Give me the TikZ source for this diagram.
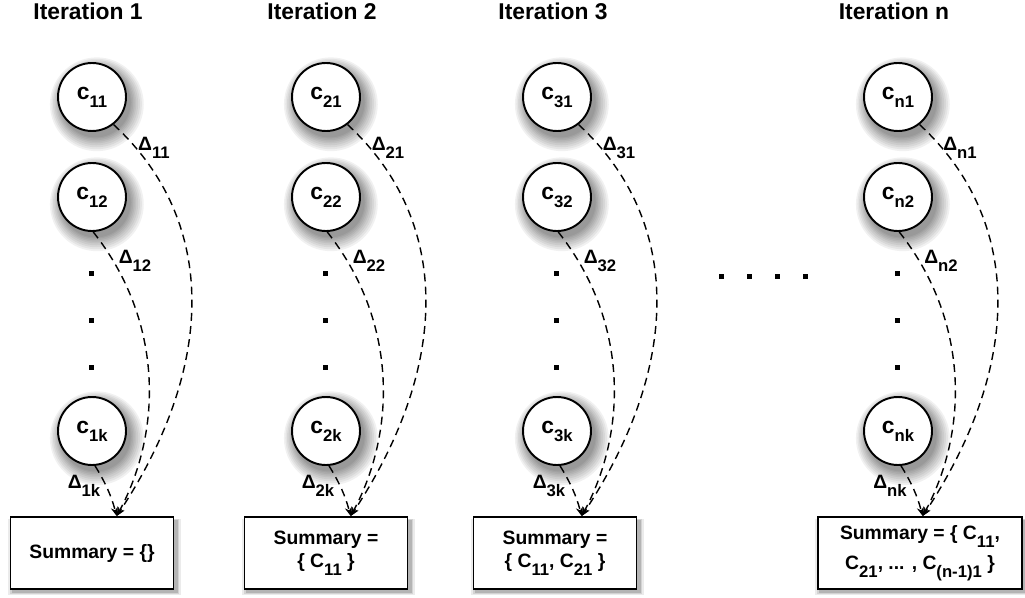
\documentclass[tikz,border=0pt]{standalone}
\usepackage{fontspec}
\setmainfont{Liberation Sans}
\usetikzlibrary{arrows.meta,shadows}

\newcommand{\idx}[1]{\raisebox{-4.5pt}{\fontsize{9.5}{10}\selectfont #1}}

\tikzset{
  sh/.style={drop shadow={fill=black,opacity=0.055,shadow xshift=2pt,shadow yshift=-3pt,shadow scale=#1}},
  circshadow/.style={sh=1.38, sh=1.33, sh=1.28, sh=1.23, sh=1.18, sh=1.14, sh=1.10, sh=1.06, sh=1.03},
  boxshadow/.style={
    drop shadow={fill=black,opacity=0.08,shadow xshift=1.5pt,shadow yshift=-2pt,shadow scale=1.06},
    drop shadow={fill=black,opacity=0.1,shadow xshift=1.5pt,shadow yshift=-2pt,shadow scale=1.04},
    drop shadow={fill=black,opacity=0.15,shadow xshift=1.5pt,shadow yshift=-2pt,shadow scale=1.02}},
  cnode/.style={circle, draw, line width=1.1pt, fill=white, minimum size=1.36cm, inner sep=0pt,
    font=\fontsize{13}{15}\selectfont\bfseries, circshadow},
  sumbox/.style={rectangle, draw, line width=1.1pt, fill=white, minimum width=3.26cm,
    minimum height=1.44cm, align=center, font=\fontsize{11}{13}\selectfont\bfseries, boxshadow},
  ttl/.style={font=\fontsize{13}{15}\selectfont\bfseries, anchor=base, inner sep=0pt},
  dlabel/.style={font=\fontsize{11}{13}\selectfont\bfseries, inner sep=0pt},
  link/.style={dash pattern=on 4.5pt off 3pt, line width=0.8pt, -{Stealth[length=5pt,width=4pt]}}
}

\begin{document}
\begin{tikzpicture}[x=0.02cm, y=-0.02cm]
  \useasboundingbox (0,0) rectangle (1025,598);

  % iterations: title, clusters and dots
  \foreach \cx/\i in {92/1, 326/2, 557/3, 898/n}{
    \node[ttl] (title\i) at ({\cx-4},20) {Iteration \i};
    \node[cnode] (c\i-1) at (\cx,97) {c\idx{\i1}};
    \node[cnode] (c\i-2) at (\cx,197) {c\idx{\i2}};
    \node[cnode] (c\i-k) at (\cx,431) {c\idx{\i k}};
    \foreach \y in {273,320,367}
      \fill ({\cx-3.5},{\y-2.5}) rectangle ++(5,5);
  }
  \foreach \x in {721,749,777,805}
    \fill ({\x-2.5},273.5) rectangle ++(5,5);

  % summaries
  \node[sumbox] (sum1) at (92,553) {Summary = \{\}};
  \node[sumbox] (sum2) at (326,553) {Summary =\\\{ C\idx{11} \}};
  \node[sumbox] (sum3) at (555,553) {Summary =\\\{ C\idx{11}, C\idx{21} \}};
  \node[sumbox, minimum width=4.08cm] (sumn) at (920,553)
    {Summary = \{ C\idx{11},\\[4pt] C\idx{21}, ... , C\idx{(n-1)1} \}};

  % deltas
  \foreach \cx/\i in {92/1, 326/2, 557/3, 898/n}{
    \coordinate (tip\i) at (c\i-k.-45 |- sum\i.north);
    \draw[link] (c\i-1.-52) .. controls ({\cx+125},220) and ({\cx+125},364) .. (tip\i);
    \draw[link] (c\i-2.-88) .. controls ({\cx+71},320) and ({\cx+71},430) .. (tip\i);
    \draw[link] (c\i-k.-85) to[bend left=8] (tip\i);
    \node[dlabel] (d\i-1) at ({\cx+62},148) {Δ\idx{\i1}};
    \node[dlabel] (d\i-2) at ({\cx+43},261) {Δ\idx{\i2}};
    \node[dlabel] (d\i-k) at ({\cx-8},486) {Δ\idx{\i k}};
  }
\end{tikzpicture}
\end{document}
